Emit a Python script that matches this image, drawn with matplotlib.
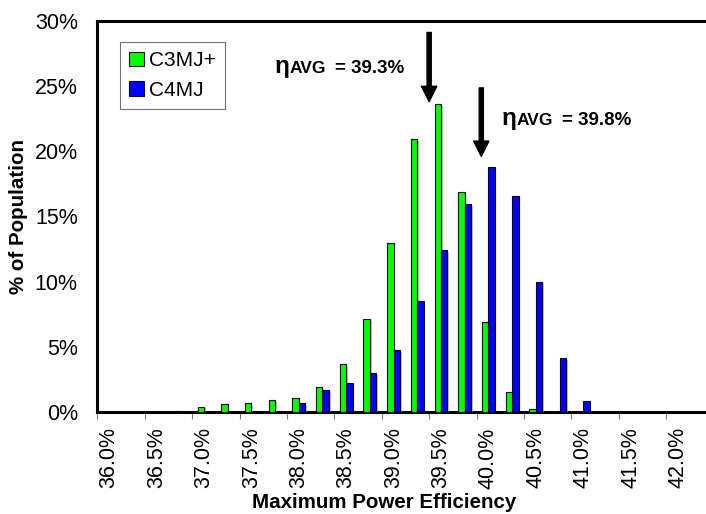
import numpy as np
import matplotlib
matplotlib.use("Agg")
import matplotlib.pyplot as plt
import matplotlib.patheffects as pe
from matplotlib.patches import Patch

plt.rcParams['font.family'] = ['Liberation Sans', 'DejaVu Sans']

# efficiency bins, 0.25% wide
bins = ["36.0%", "36.25%", "36.5%", "36.75%", "37.0%", "37.25%", "37.5%", "37.75%",
        "38.0%", "38.25%", "38.5%", "38.75%", "39.0%", "39.25%", "39.5%", "39.75%",
        "40.0%", "40.25%", "40.5%", "40.75%", "41.0%", "41.25%", "41.5%", "41.75%",
        "42.0%"]

# % of population in each bin
c3mj = [0, 0, 0, 0.08, 0.41, 0.59, 0.69, 0.9, 1.1, 1.9, 3.66, 7.1, 12.98, 20.9,
        23.6, 16.9, 6.88, 1.51, 0.23, 0, 0, 0, 0, 0, 0]
c4mj = [0, 0, 0, 0, 0, 0, 0, 0, 0.69, 1.72, 2.22, 2.99, 4.75, 8.54, 12.4, 15.95,
        18.76, 16.54, 10.0, 4.14, 0.84, 0, 0, 0, 0]

avg_labels = ["= 39.3%", "= 39.8%"]
avg_pos = [13.5, 15.7]   # bin index where the average falls

fig = plt.figure(figsize=(7.06, 5.14), dpi=100)
ax = fig.add_axes([0.1378, 0.1984, 0.8622, 0.7613])

x = np.arange(len(bins))
w = 0.27
shadow = [pe.SimplePatchShadow(offset=(1.2, -1.2), shadow_rgbFace='0.6', alpha=0.6), pe.Normal()]
b1 = ax.bar(x - w / 2, c3mj, w, color='#00ff00', edgecolor='black', linewidth=0.8, zorder=3)
b2 = ax.bar(x + w / 2, c4mj, w, color='#0000ff', edgecolor='black', linewidth=0.8, zorder=3)
for bars in (b1, b2):
    for p in bars:
        if p.get_height() > 0:
            p.set_path_effects(shadow)
        else:
            p.set_visible(False)

ax.set_xlim(-0.5, 25.18)
ax.set_ylim(0, 30)

# ticks sit on bin edges, labels on every other bin centre
ax.set_xticks(np.arange(-0.5, 24, 2))
ax.set_xticklabels([])
ax.set_xticks(x[::2], minor=True)
ax.set_xticklabels(bins[::2], minor=True, rotation=90, fontsize=15.5)
ax.tick_params(axis='x', which='major', length=5, width=0.8, color='0.5', direction='out')
ax.tick_params(axis='x', which='minor', length=0, pad=11)

yt = np.arange(0, 31, 5)
ax.set_yticks(yt)
ax.set_yticklabels([f"{v}%" for v in yt], fontsize=15.5)
ax.tick_params(axis='y', length=0, pad=14)

for s in ('top', 'left', 'bottom'):
    ax.spines[s].set_linewidth(2.2)
ax.spines['right'].set_visible(False)

fig.text(18.5 / 706, 1 - 216 / 514, '% of Population', rotation=90, fontsize=14.8,
         fontweight='bold', ha='center', va='center')
fig.text(384 / 706, 1 - 502 / 514, 'Maximum Power Efficiency', fontsize=14.8,
         fontweight='bold', ha='center', va='center')

handles = [Patch(facecolor='#00ff00', edgecolor='black', linewidth=0.8, label='C3MJ+'),
           Patch(facecolor='#0000ff', edgecolor='black', linewidth=0.8, label='C4MJ')]
leg = ax.legend(handles=handles, loc='upper left', bbox_to_anchor=(0.037, 0.946),
                borderaxespad=0, fontsize=15, fancybox=False, framealpha=1,
                edgecolor='0.45', handlelength=0.7, handleheight=0.7,
                handletextpad=0.25, labelspacing=0.5, borderpad=0.45)
leg.get_frame().set_linewidth(0.8)

# arrows marking the average efficiencies
ax.annotate('', xy=(avg_pos[0], 23.8), xytext=(avg_pos[0], 29.1),
            arrowprops=dict(facecolor='black', edgecolor='black', width=3,
                            headwidth=11, headlength=11, shrink=0))
ax.annotate('', xy=(avg_pos[1], 19.6), xytext=(avg_pos[1], 24.85),
            arrowprops=dict(facecolor='black', edgecolor='black', width=3,
                            headwidth=11, headlength=11, shrink=0))

for (tx, ty), lab in zip([(7.0, 26.0), (16.57, 22.0)], avg_labels):
    ax.text(tx, ty, 'η', fontsize=17.5, fontweight='bold', va='baseline', ha='left')
    ax.annotate('AVG', xy=(tx, ty), xytext=(10.3, 0), textcoords='offset points',
                fontsize=12.5, fontweight='bold', va='baseline', ha='left')
    ax.annotate(lab, xy=(tx, ty), xytext=(43, 0), textcoords='offset points',
                fontsize=13.5, fontweight='bold', va='baseline', ha='left')

fig.savefig('out.png', dpi=100)
